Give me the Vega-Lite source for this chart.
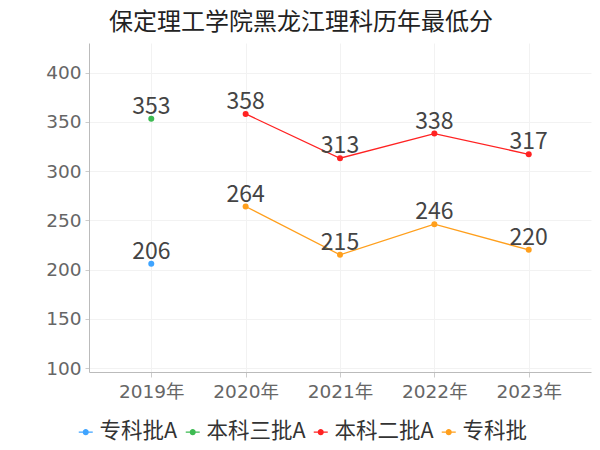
{
  "$schema": "https://vega.github.io/schema/vega-lite/v6.json",
  "width": 502,
  "height": 329,
  "autosize": {"type": "none"},
  "padding": {"left": 89, "top": 43, "right": 9, "bottom": 78},
  "background": "white",
  "title": {
    "text": "保定理工学院黑龙江理科历年最低分",
    "font": "Noto Sans CJK SC",
    "fontSize": 24,
    "fontWeight": "normal",
    "color": "#222",
    "anchor": "middle",
    "dx": -39,
    "offset": 8
  },
  "config": {
    "view": {"stroke": null},
    "font": "DejaVu Sans, Noto Sans CJK SC"
  },
  "data": {
    "values": [
      {"year": "2019年", "score": 206, "series": "专科批A"},
      {"year": "2019年", "score": 353, "series": "本科三批A"},
      {"year": "2020年", "score": 358, "series": "本科二批A"},
      {"year": "2021年", "score": 313, "series": "本科二批A"},
      {"year": "2022年", "score": 338, "series": "本科二批A"},
      {"year": "2023年", "score": 317, "series": "本科二批A"},
      {"year": "2020年", "score": 264, "series": "专科批"},
      {"year": "2021年", "score": 215, "series": "专科批"},
      {"year": "2022年", "score": 246, "series": "专科批"},
      {"year": "2023年", "score": 220, "series": "专科批"}
    ]
  },
  "encoding": {
    "x": {
      "field": "year",
      "type": "ordinal",
      "scale": {"type": "point", "padding": 0.66},
      "axis": {
        "title": null,
        "labelAngle": 0,
        "labelFont": "DejaVu Sans, Noto Sans CJK SC",
        "labelFontSize": 18.5,
        "labelColor": "#666",
        "labelPadding": 5,
        "domainColor": "#bbb",
        "tickColor": "#ccc",
        "tickSize": 5,
        "grid": true,
        "gridColor": "#f2f2f2"
      }
    },
    "y": {
      "field": "score",
      "type": "quantitative",
      "scale": {"domain": [96, 430], "nice": false, "zero": false},
      "axis": {
        "title": null,
        "values": [100, 150, 200, 250, 300, 350, 400],
        "labelFont": "DejaVu Sans",
        "labelFontSize": 18.5,
        "labelColor": "#666",
        "labelPadding": 4,
        "domainColor": "#bbb",
        "tickColor": "#ccc",
        "tickSize": 4,
        "grid": true,
        "gridColor": "#f2f2f2"
      }
    },
    "color": {
      "field": "series",
      "type": "nominal",
      "scale": {
        "domain": ["专科批A", "本科三批A", "本科二批A", "专科批"],
        "range": ["#3fa4ff", "#3dbb52", "#ff2222", "#ff9f1c"]
      },
      "legend": {
        "title": null,
        "orient": "none",
        "direction": "horizontal",
        "legendX": -14,
        "legendY": 378,
        "labelFont": "Noto Sans CJK SC",
        "labelFontSize": 21.5,
        "labelColor": "#333",
        "symbolType": "M-1,-0.1L1,-0.1L1,0.1L-1,0.1ZM-0.43,0A0.43,0.43 0 1,1 0.43,0A0.43,0.43 0 1,1 -0.43,0Z",
        "symbolSize": 196,
        "symbolStrokeWidth": 0,
        "labelOffset": 3,
        "columnPadding": 4,
        "encode": {
          "symbols": {
            "update": {
              "fill": {"scale": "color", "field": "value"},
              "opacity": {"value": 1},
              "fillOpacity": {"value": 1}
            }
          }
        }
      }
    }
  },
  "layer": [
    {
      "mark": {"type": "line", "strokeWidth": 1.3, "point": {"size": 36, "filled": true, "opacity": 1}}
    },
    {
      "mark": {"type": "text", "baseline": "alphabetic", "dy": -5, "fontSize": 23, "font": "Noto Sans CJK SC", "color": "#444"},
      "encoding": {"text": {"field": "score", "type": "quantitative"}, "color": {"value": "#444"}}
    }
  ]
}
